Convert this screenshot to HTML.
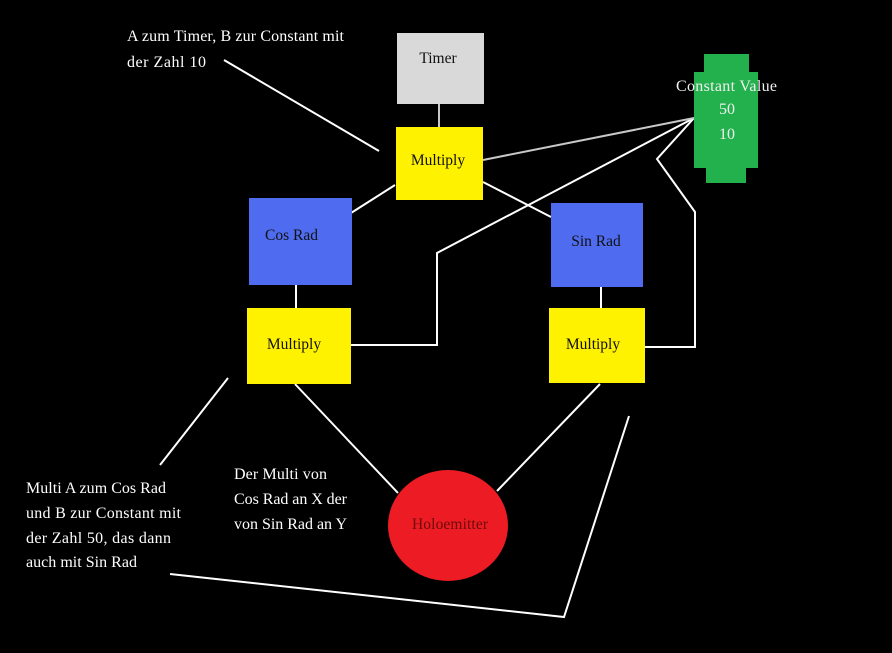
<!DOCTYPE html>
<html><head><meta charset="utf-8"><style>
html,body{margin:0;padding:0;background:#000;}
svg{display:block;}
text{font-family:"Liberation Serif",serif;}
</style></head><body>
<svg width="892" height="653" viewBox="0 0 892 653" xmlns="http://www.w3.org/2000/svg">
<rect x="0" y="0" width="892" height="653" fill="#000"/>
<!-- connectors -->
<g stroke="#fff" stroke-width="2" fill="none">
<line x1="224" y1="60" x2="379" y2="151"/>
<line x1="395" y1="185" x2="351" y2="213"/>
<line x1="483" y1="182" x2="551" y2="217"/>
<polyline points="694,118 437,253 437,345 351,345"/>
<polyline points="694,118 657,159 695,212 695,347 645,347"/>
<line x1="296" y1="285" x2="296" y2="308"/>
<line x1="601" y1="287" x2="601" y2="308"/>
<line x1="295" y1="384" x2="398" y2="493"/>
<line x1="600" y1="384" x2="497" y2="491"/>
<line x1="228" y1="378" x2="160" y2="465"/>
<polyline points="170,574 564,617 629,416"/>
</g>
<g stroke="#c8c8c8" stroke-width="2" fill="none">
<line x1="439" y1="104" x2="439" y2="127"/>
<line x1="483" y1="160" x2="694" y2="118"/>
</g>
<!-- nodes -->
<rect x="397" y="33" width="87" height="71" fill="#d9d9d9"/>
<rect x="396" y="127" width="87" height="73" fill="#fff200"/>
<rect x="249" y="198" width="103" height="87" fill="#4f6cf0"/>
<rect x="551" y="203" width="92" height="84" fill="#4f6cf0"/>
<rect x="247" y="308" width="104" height="76" fill="#fff200"/>
<rect x="549" y="308" width="96" height="75" fill="#fff200"/>
<g fill="#22b14c">
<rect x="704" y="54" width="45" height="20"/>
<rect x="694" y="72" width="64" height="96"/>
<rect x="706" y="166" width="40" height="17"/>
</g>
<ellipse cx="448" cy="525.5" rx="60" ry="55.5" fill="#ed1c24"/>
<!-- labels -->
<g font-size="15.5" fill="#111">
<text x="438" y="63" text-anchor="middle">Timer</text>
<text x="438" y="165" text-anchor="middle">Multiply</text>
<text x="265" y="240">Cos Rad</text>
<text x="596" y="246" text-anchor="middle">Sin Rad</text>
<text x="294" y="349" text-anchor="middle">Multiply</text>
<text x="593" y="349" text-anchor="middle">Multiply</text>
</g>
<text x="412" y="529" textLength="76" font-size="15.5" fill="#6e0a0a">Holoemitter</text>
<g font-size="16" fill="#f0f0f0">
<text x="676" y="91" textLength="101">Constant Value</text>
<text x="719" y="114" textLength="16">50</text>
<text x="719" y="139" textLength="16">10</text>
</g>
<g font-size="16" fill="#fff">
<text x="127" y="41" textLength="217">A zum Timer, B zur Constant mit</text>
<text x="127" y="67" textLength="79">der Zahl 10</text>
<text x="26" y="493" textLength="140">Multi A zum Cos Rad</text>
<text x="26" y="518" textLength="155">und B zur Constant mit</text>
<text x="26" y="543" textLength="145">der Zahl 50, das dann</text>
<text x="26" y="567" textLength="111">auch mit Sin Rad</text>
<text x="234" y="479" textLength="93">Der Multi von</text>
<text x="234" y="504" textLength="113">Cos Rad an X der</text>
<text x="234" y="529" textLength="113">von Sin Rad an Y</text>
</g>
</svg>
</body></html>
